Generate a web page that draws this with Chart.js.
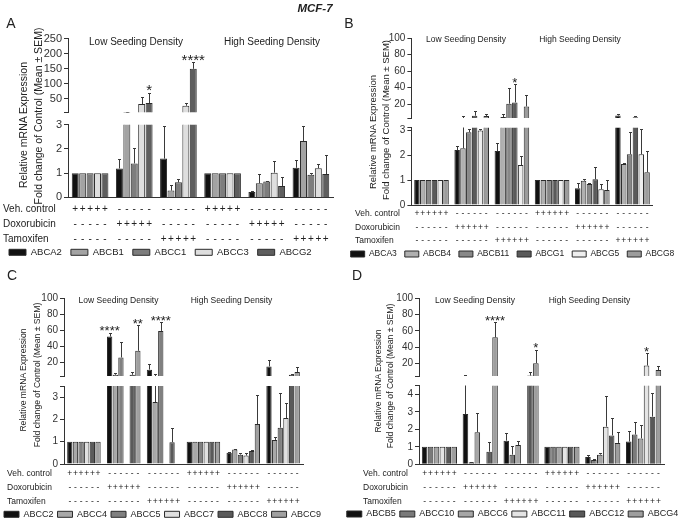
<!DOCTYPE html>
<html><head><meta charset="utf-8">
<script src="https://cdn.jsdelivr.net/npm/chart.js@4.4.1/dist/chart.umd.min.js"></script>
<style>
body{margin:0;background:#fff;font-family:"Liberation Sans",Arial,sans-serif;color:#222}
#fig{position:relative;width:685px;height:520px;overflow:hidden;background:#fff}
canvas{position:absolute}
.t{position:absolute;white-space:nowrap;color:#222;line-height:1}
</style></head><body><div id="fig"></div>
<script>
// ---------- shared categories ----------
const groupNames = ['Low Veh','Low Dox','Low Tam','High Veh','High Dox','High Tam'];
const groupTreatment = [0,1,2,0,1,2];
const treatmentNames = ['Veh. control','Doxorubicin','Tamoxifen'];
const densityNames = ['Low Seeding Density','High Seeding Density'];
const yTitleLines = ['Relative mRNA Expression','Fold change of Control (Mean \u00b1 SEM)'];
const figureTitle = 'MCF-7';

// ---------- Panel A ----------
const aGenes = ['ABCA2','ABCB1','ABCC1','ABCC3','ABCG2'];
const aValues = [
  [1, 1.19, 1.6, 1, 0.22, 1.22],
  [1, 6, 0.28, 1, 0.58, 2.32],
  [1, 1.4, 0.62, 1, 0.66, 0.93],
  [1, 33, 27, 1, 1.02, 1.2],
  [1, 36, 150, 1, 0.47, 0.96]
];
const aSem = [
  [0, 0.41, 1.33, 0, 0.06, 0.34],
  [0, 1.5, 0.22, 0, 0.38, 0.61],
  [0, 0.65, 0.14, 0, 0.02, 0.08],
  [0, 22, 9, 0, 0.46, 0.17],
  [0, 34, 22, 0, 0.38, 0.79]
];
const aUpperTicks = [5, 50, 100, 150, 200, 250];
const aLowerTicks = [0, 1, 2, 3];
const aSig = [[1, 4, '*'], [2, 4, '****']];

// ---------- Panel B ----------
const bGenes = ['ABCA3','ABCB4','ABCB11','ABCG1','ABCG5','ABCG8'];
const bValues = [
  [1, 2.2, 2.16, 1, 0.67, 6],
  [1, 2.27, 4.2, 1, 0.97, 1.64],
  [1, 2.91, 20.4, 1, 0.84, 2.03],
  [1, 5.8, 22, 1, 1.03, 4],
  [1, 2.98, 1.6, 1, 0.63, 2.03],
  [1, 5.5, 17, 1, 0.6, 1.31]
];
const bSem = [
  [0, 0.16, 0.31, 0, 0.22, 2],
  [0, 2.8, 3.5, 0, 0.08, 0.04],
  [0, 0.14, 19, 0, 0.06, 0.9],
  [0, 6, 22, 0, 0.5, 1],
  [0, 0.08, 0.36, 0, 0.21, 1.0],
  [0, 2, 14, 0, 0.4, 0.85]
];
const bUpperTicks = [3, 20, 40, 60, 80, 100];
const bLowerTicks = [0, 1, 2, 3, 3.1];
const bSig = [[2, 3, '*']];

// ---------- Panel C ----------
const cGenes = ['ABCC2','ABCC4','ABCC5','ABCC7','ABCC8','ABCC9'];
const cValues = [
  [1, 52.5, 11.4, 1, 0.5, 15.4],
  [1, 5, 2.78, 1, 0.65, 1.08],
  [1, 26.5, 59.5, 1, 0.42, 1.63],
  [1, null, null, 1, 0.38, 2.06],
  [1, 5, 0.98, 1, 0.58, 5.2],
  [1, 34.8, null, 1, 1.79, 8.5]
];
const cSem = [
  [0, 5, 7.4, 0, 0.05, 8.3],
  [0, 2, 3.2, 0, 0.04, 0.12],
  [0, 19, 10.5, 0, 0.08, 1.55],
  [0, 0, 0, 0, 0.1, 0.67],
  [0, 3, 0.62, 0, 0.04, 0.8],
  [0, 32, 0, 0, 1.31, 6.2]
];
const cUpperTicks = [3.5, 20, 40, 60, 80, 100];
const cLowerTicks = [0, 1, 2, 3, 3.5];
const cSig = [[1, 0, '****'], [1, 5, '**'], [2, 2, '****']];

// ---------- Panel D ----------
const dGenes = ['ABCB5','ABCC10','ABCC6','ABCC11','ABCC12','ABCG4'];
const dValues = [
  [1, 2.87, 1.35, 1, 0.42, 1.3],
  [1, 0.11, 0.55, 1, 0.25, 1.7],
  [1, 1.83, 1.1, 1, 0.55, 1.48],
  [1, null, null, 1, 2.15, 17.4],
  [1, 0.72, 5, 1, 1.65, 2.72],
  [1, 52, 20.3, 1, 1.22, 11.8]
];
const dSem = [
  [0, 2.6, 0.45, 0, 0.13, 0.58],
  [0, 0.03, 0.5, 0, 0.03, 0.72],
  [0, 1.08, 0.22, 0, 0.1, 0.76],
  [0, 0, 0, 0, 1.73, 15],
  [0, 0.54, 4.5, 0, 0.97, 1.33],
  [0, 18.4, 16.2, 0, 0.61, 4.4]
];
const dUpperTicks = [4.5, 20, 40, 60, 80, 100];
const dLowerTicks = [0, 1, 2, 3, 4, 4.5];
const dSig = [[1, 5, '****'], [2, 5, '*'], [5, 3, '*']];

// ---------- styles / layout (not data) ----------
const FONT = '"Liberation Sans", Arial, sans-serif';
const styleA = {letter:'A', colors:['#111111','#a3a3a3','#7d7d7d','#dedede','#5e5e5e'],
  px:0, pw:340, left:68, right:333, upTop:38.8, upBot:113.8, loTop:124, zero:197.4,
  rows:[209.5,224,239.5], legY:252.3, tickFs:11, tblFs:10, tblX:3, legFs:9.5, legBox:17, legPad:9, legAlign:'start',
  sigFs:15, sectFs:10, sect:[[136,42],[272,42]], yt:[[23,125],[38,116]], ytFs:10.5, letterPos:[11,23], cat:0.84};
const styleB = {letter:'B', colors:['#111111','#b0b0b0','#888888','#5a5a5a','#eeeeee','#9c9c9c'],
  px:340, pw:345, left:411.4, right:652.6, upTop:38.3, upBot:118.3, loTop:127.5, zero:205,
  rows:[213.3,228,240.7], legY:254, tickFs:10, tblFs:8.5, tblX:15, legFs:8.5, legBox:14, legPad:8, legAlign:'center',
  sigFs:13, sectFs:8.5, sect:[[466,39],[580,39]], yt:[[373,132],[386,120]], ytFs:9.5, letterPos:[349,23], cat:0.87};
const styleC = {letter:'C', colors:['#111111','#a8a8a8','#808080','#e0e0e0','#5a5a5a','#a0a0a0'],
  px:0, pw:340, left:64, right:303, upTop:298.3, upBot:376.4, loTop:386, zero:464,
  rows:[474,488,502], legY:514.3, tickFs:10, tblFs:8.5, tblX:7, legFs:9, legBox:15, legPad:4, legAlign:'start',
  sigFs:13, sectFs:8.5, sect:[[118.5,300],[231.5,300]], yt:[[23,380],[37,375]], ytFs:8.6, letterPos:[12,275], cat:0.85};
const styleD = {letter:'D', colors:['#111111','#7a7a7a','#a6a6a6','#e4e4e4','#585858','#9e9e9e'],
  px:340, pw:345, left:419, right:664, upTop:298.3, upBot:376.3, loTop:385.5, zero:464.3,
  rows:[474,488,502], legY:514, tickFs:10, tblFs:8.5, tblX:23, legFs:9, legBox:15, legPad:4, legAlign:'center',
  sigFs:13, sectFs:8.5, sect:[[475,300],[589.5,300]], yt:[[377.7,381],[390,376]], ytFs:8.6, letterPos:[357,275], cat:0.87};

const fig = document.getElementById('fig');
function addText(txt, x, y, fs, extra) {
  const d = document.createElement('div');
  d.className = 't';
  d.textContent = txt;
  d.style.left = x + 'px'; d.style.top = y + 'px'; d.style.fontSize = fs + 'px';
  d.style.transform = 'translate(-50%,-50%)' + (extra && extra.rot ? ' rotate(-90deg)' : '');
  if (extra && extra.css) d.style.cssText += extra.css;
  fig.appendChild(d);
}
function mkCanvas(x, y, w, h) {
  const c = document.createElement('canvas');
  c.width = w; c.height = h;
  c.style.left = x + 'px'; c.style.top = y + 'px';
  c.style.width = w + 'px'; c.style.height = h + 'px';
  fig.appendChild(c);
  return c;
}

function buildPanel(genes, values, sem, upTicks, loTicks, sig, S) {
  const makeDatasets = () => genes.map((g, i) => ({
    label: g, data: values[i], yAxisID: 'y', xAxisID: 'x',
    backgroundColor: S.colors[i], borderColor: '#2b2b2b', borderWidth: 1,
    categoryPercentage: S.cat, barPercentage: 0.94
  }));
  const yAxis = (ticks, hideMin) => {
    const mn = ticks[0], mx = ticks[ticks.length - 1];
    return {
      type: 'linear', position: 'left', min: mn, max: mx,
      afterBuildTicks: s => { s.ticks = ticks.map(v => ({value: v})); },
      afterFit: s => { s.width = S.left - S.px; },
      ticks: {
        autoSkip: false,
        callback: v => ((hideMin && v === mn) || !Number.isInteger(v)) ? '' : String(v),
        font: {size: S.tickFs, family: FONT}, color: '#333', padding: 2
      },
      grid: {display: true, drawOnChartArea: false, drawTicks: true, tickLength: 4, color: '#333', lineWidth: 1},
      border: {display: true, color: '#333', width: 1}
    };
  };
  const spacer = {
    type: 'linear', position: 'right', display: true,
    ticks: {display: false}, grid: {display: false}, border: {display: false},
    afterFit: s => { s.width = S.px + S.pw - S.right; }
  };
  const clipErr = {
    id: 'clipErr',
    beforeDatasetsDraw(chart) {
      const a = chart.chartArea, ctx = chart.ctx;
      ctx.save(); ctx.beginPath();
      ctx.rect(a.left - 2, a.top, a.right - a.left + 4, a.bottom - a.top);
      ctx.clip();
    },
    afterDatasetsDraw(chart) {
      const ctx = chart.ctx, ys = chart.scales.y;
      ctx.strokeStyle = '#3a3a3a'; ctx.lineWidth = 1;
      chart.data.datasets.forEach((ds, i) => {
        chart.getDatasetMeta(i).data.forEach((el, g) => {
          const v = values[i][g], e = sem[i][g];
          if (v == null || !e) return;
          const x = Math.round(el.x) + 0.5;
          const y0 = ys.getPixelForValue(v), y1 = Math.round(ys.getPixelForValue(v + e)) + 0.5;
          const hw = 1.5;
          ctx.beginPath();
          ctx.moveTo(x, y0); ctx.lineTo(x, y1);
          ctx.moveTo(x - hw, y1); ctx.lineTo(x + hw, y1);
          ctx.stroke();
        });
      });
      ctx.restore();
    }
  };

  // ---- upper (broken) part ----
  const uTop = Math.floor(S.upTop - 10);
  const uH = Math.ceil(S.upBot + 7 - uTop);
  const cu = mkCanvas(S.px, uTop, S.pw, uH);
  const sigPlugin = {
    id: 'sig',
    afterDraw(chart) {
      const ctx = chart.ctx, ys = chart.scales.y;
      ctx.save();
      ctx.fillStyle = '#222'; ctx.textAlign = 'center'; ctx.textBaseline = 'alphabetic';
      ctx.font = S.sigFs + 'px ' + FONT;
      sig.forEach(([g, s, t]) => {
        const el = chart.getDatasetMeta(s).data[g];
        const y = ys.getPixelForValue(values[s][g] + sem[s][g]);
        ctx.fillText(t, el.x, y + 2.5);
      });
      ctx.restore();
    }
  };
  new Chart(cu, {
    type: 'bar',
    data: {labels: groupNames, datasets: makeDatasets()},
    options: {
      responsive: false, animation: false, devicePixelRatio: 1,
      layout: {padding: {top: S.upTop - uTop, bottom: uTop + uH - S.upBot, left: 0, right: 0}},
      plugins: {legend: {display: false}, tooltip: {enabled: false}},
      scales: {
        x: {type: 'category', display: false, offset: true},
        y: yAxis(upTicks, true),
        sp: spacer
      }
    },
    plugins: [clipErr, sigPlugin]
  });

  // ---- lower part ----
  const cTop = Math.floor(S.loTop - 8);
  const legTop = S.legY - S.legPad - S.legFs / 2;
  const legH = S.legFs + S.legPad + 4;
  const xAxisH = legTop - S.zero;
  const needH = legTop + legH - cTop;
  const lH = Math.ceil(needH);
  const cl = mkCanvas(S.px, cTop, S.pw, lH);
  const tablePlugin = {
    id: 'tbl',
    afterDraw(chart) {
      const ctx = chart.ctx;
      ctx.save();
      ctx.fillStyle = '#222'; ctx.textBaseline = 'middle';
      ctx.font = S.tblFs + 'px ' + FONT;
      treatmentNames.forEach((name, r) => {
        const y = S.rows[r] - cTop;
        ctx.textAlign = 'left';
        ctx.fillText(name, S.tblX, y);
        ctx.textAlign = 'center';
        chart.data.datasets.forEach((ds, i) => {
          chart.getDatasetMeta(i).data.forEach((el, g) => {
            ctx.fillText(groupTreatment[g] === r ? '+' : '-', el.x, y);
          });
        });
      });
      ctx.restore();
    }
  };
  new Chart(cl, {
    type: 'bar',
    data: {labels: groupNames, datasets: makeDatasets()},
    options: {
      responsive: false, animation: false, devicePixelRatio: 1,
      layout: {padding: {top: S.loTop - cTop, bottom: lH - needH, left: 0, right: 0}},
      plugins: {
        tooltip: {enabled: false},
        legend: {
          display: true, position: 'bottom', align: S.legAlign, maxHeight: legH,
          labels: {boxWidth: S.legBox, boxHeight: 6, padding: S.legPad, color: '#222',
                   font: {size: S.legFs, family: FONT}}
        }
      },
      scales: {
        x: {type: 'category', offset: true, ticks: {display: false}, grid: {display: false},
            border: {display: true, color: '#333', width: 1},
            afterFit: s => { s.height = xAxisH; }},
        y: yAxis(loTicks, false),
        sp: spacer
      }
    },
    plugins: [clipErr, tablePlugin]
  });

  // ---- text around ----
  addText(S.letter, S.letterPos[0], S.letterPos[1], 14);
  densityNames.forEach((n, k) => addText(n, S.sect[k][0], S.sect[k][1], S.sectFs));
  yTitleLines.forEach((t, k) => addText(t, S.yt[k][0], S.yt[k][1], S.ytFs, {rot: true}));
}

buildPanel(aGenes, aValues, aSem, aUpperTicks, aLowerTicks, aSig, styleA);
buildPanel(bGenes, bValues, bSem, bUpperTicks, bLowerTicks, bSig, styleB);
buildPanel(cGenes, cValues, cSem, cUpperTicks, cLowerTicks, cSig, styleC);
buildPanel(dGenes, dValues, dSem, dUpperTicks, dLowerTicks, dSig, styleD);
addText(figureTitle, 315, 9, 11.5, {css: 'font-weight:bold;font-style:italic;'});
</script>
</body></html>
